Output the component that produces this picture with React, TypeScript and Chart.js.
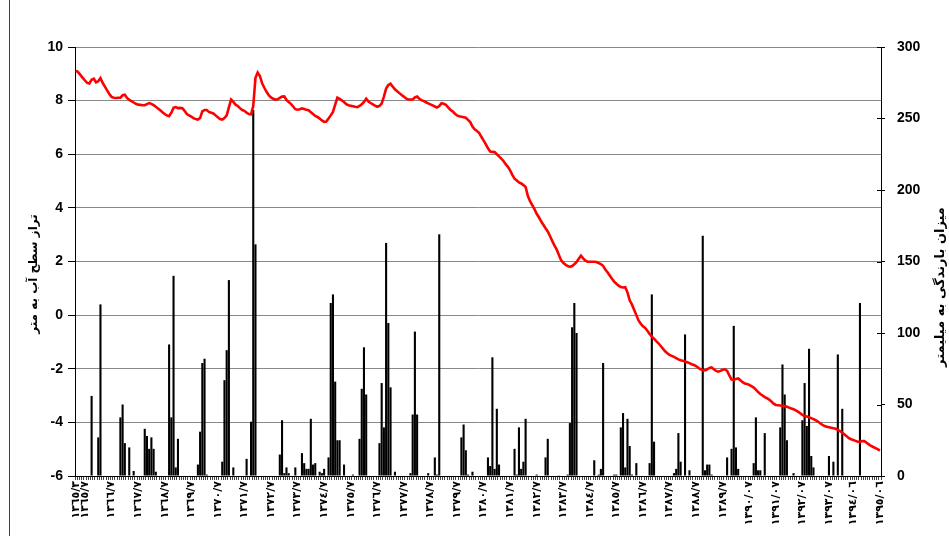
import { useEffect, useRef } from 'react';
import { Chart, registerables } from 'chart.js';

Chart.register(...registerables);

// Monthly groundwater level (m), starting 1365/03, one row per 12 months
const WATER_LEVEL = [
  9.13, 9.05, 8.95, 8.85, 8.75, 8.66, 8.64, 8.78, 8.82, 8.68, 8.72, 8.84,
  8.66, 8.52, 8.38, 8.25, 8.14, 8.11, 8.10, 8.11, 8.11, 8.20, 8.22, 8.10,
  8.03, 7.98, 7.93, 7.88, 7.85, 7.84, 7.83, 7.83, 7.87, 7.91, 7.88, 7.83,
  7.77, 7.71, 7.64, 7.57, 7.50, 7.45, 7.42, 7.55, 7.73, 7.76, 7.72, 7.73,
  7.72, 7.62, 7.50, 7.45, 7.40, 7.35, 7.31, 7.29, 7.35, 7.60, 7.65, 7.65,
  7.58, 7.55, 7.52, 7.45, 7.38, 7.31, 7.29, 7.35, 7.45, 7.75, 8.04, 7.95,
  7.85, 7.80, 7.72, 7.65, 7.62, 7.55, 7.50, 7.49, 7.80, 8.85, 9.05, 8.92,
  8.65, 8.48, 8.33, 8.20, 8.12, 8.07, 8.04, 8.05, 8.10, 8.15, 8.16, 8.03,
  7.95, 7.88, 7.78, 7.68, 7.66, 7.68, 7.71, 7.69, 7.66, 7.64, 7.57, 7.50,
  7.43, 7.39, 7.33, 7.26, 7.21, 7.22, 7.33, 7.45, 7.58, 7.85, 8.11, 8.07,
  8.01, 7.95, 7.87, 7.83, 7.81, 7.79, 7.77, 7.76, 7.80, 7.86, 7.95, 8.07,
  7.97, 7.91, 7.86, 7.81, 7.77, 7.80, 7.89, 8.15, 8.45, 8.58, 8.63, 8.52,
  8.42, 8.35, 8.28, 8.21, 8.15, 8.08, 8.04, 8.04, 8.04, 8.12, 8.15, 8.07,
  8.02, 7.98, 7.94, 7.90, 7.86, 7.82, 7.78, 7.74, 7.80, 7.90, 7.88, 7.84,
  7.75, 7.66, 7.60, 7.52, 7.45, 7.42, 7.40, 7.38, 7.36, 7.28, 7.20, 7.03,
  6.93, 6.87, 6.80, 6.65, 6.52, 6.38, 6.22, 6.10, 6.09, 6.08, 6.00, 5.92,
  5.84, 5.75, 5.63, 5.53, 5.40, 5.23, 5.09, 5.02, 4.95, 4.91, 4.85, 4.78,
  4.45, 4.25, 4.10, 3.95, 3.78, 3.65, 3.50, 3.37, 3.24, 3.12, 2.95, 2.77,
  2.60, 2.45, 2.25, 2.05, 1.95, 1.88, 1.83, 1.80, 1.83, 1.90, 1.98, 2.10,
  2.22, 2.12, 2.03, 1.99, 1.99, 1.99, 1.99, 1.98, 1.94, 1.90, 1.84, 1.70,
  1.60, 1.48, 1.36, 1.25, 1.17, 1.10, 1.05, 1.03, 1.04, 0.85, 0.55, 0.40,
  0.20, 0.00, -0.20, -0.32, -0.42, -0.48, -0.58, -0.70, -0.80, -0.88, -0.97, -1.05,
  -1.15, -1.25, -1.35, -1.42, -1.48, -1.52, -1.56, -1.60, -1.65, -1.68, -1.70, -1.73,
  -1.76, -1.79, -1.83, -1.86, -1.90, -1.96, -2.02, -2.05, -2.06, -2.02, -1.97, -1.95,
  -2.02, -2.08, -2.11, -2.08, -2.04, -2.02, -2.08, -2.25, -2.40, -2.41, -2.38, -2.36,
  -2.43, -2.50, -2.55, -2.57, -2.60, -2.65, -2.70, -2.78, -2.87, -2.94, -3.00, -3.06,
  -3.10, -3.15, -3.22, -3.30, -3.35, -3.36, -3.37, -3.38, -3.39, -3.42, -3.45, -3.48,
  -3.51, -3.55, -3.60, -3.66, -3.72, -3.76, -3.78, -3.81, -3.84, -3.88, -3.92, -3.97,
  -4.03, -4.09, -4.14, -4.16, -4.18, -4.20, -4.22, -4.24, -4.28, -4.33, -4.38, -4.45,
  -4.52, -4.59, -4.63, -4.66, -4.69, -4.72, -4.72, -4.70, -4.70, -4.76, -4.82, -4.88,
  -4.92, -4.96, -5.00, -5.05,
];

// Monthly rainfall (mm), same months
const RAINFALL = [
  0, 0, 0, 0, 0, 0, 0, 56, 0, 0, 27, 120,
  0, 0, 0, 0, 0, 0, 0, 0, 41, 50, 23, 0,
  20, 0, 3.5, 0, 0, 0, 0, 33, 28, 19, 27, 19,
  3, 0, 0, 0, 0, 0, 92, 41, 140, 6, 26, 0,
  0, 0, 0, 0, 0, 0, 0, 8, 31, 79, 82, 1,
  0, 0, 0, 0, 0, 0, 10, 67, 88, 137, 0, 6,
  0, 0, 0, 0, 0, 12, 0, 38, 256, 162, 0, 0,
  0, 0, 0, 0, 0, 0, 0, 0, 15, 39, 2, 6,
  2, 0, 0, 6, 0, 0, 16, 9, 5, 5, 40, 8,
  9, 0, 3, 2, 5, 0, 13, 121, 127, 66, 25, 25,
  0, 8, 0, 0, 0, 1, 0, 0, 26, 61, 90, 57,
  0, 0, 0, 0, 0, 23, 65, 34, 163, 107, 62, 0,
  3, 0, 0, 0, 0, 0, 0, 2, 43, 101, 43, 0,
  0, 0, 0, 2, 0, 0, 13, 1, 169, 0, 0, 0,
  0, 0, 0, 0, 0, 0, 27, 36, 18, 1, 0, 3,
  0, 0, 0, 0, 0, 0, 13, 7, 83, 5, 47, 8,
  0, 0, 0, 0, 0, 0, 19, 1, 34, 5, 10, 40,
  0, 0, 0, 0, 1, 0, 0, 0, 13, 26, 0, 0,
  0, 0, 0.5, 0, 0, 0, 1, 37, 104, 121, 100, 0,
  0, 0, 0, 0, 0, 0, 11, 0, 1, 5, 79, 0,
  0, 0, 0, 1, 1, 0, 34, 44, 6, 40, 21, 1,
  0, 9, 0, 0, 0, 0, 0, 9, 127, 24, 0, 0,
  0, 0, 0, 0, 0, 0, 2, 5, 30, 10, 0, 99,
  0, 4, 0, 0, 0, 0, 0, 168, 4, 8, 8, 1,
  0, 0, 0, 0, 0, 0, 13, 0, 19, 105, 20, 5,
  0, 0, 0, 0, 0, 0, 9, 41, 4, 4, 0, 30,
  0, 0, 0, 0, 0, 0, 34, 78, 57, 25, 0, 0,
  2, 0, 0, 0, 39, 65, 35, 89, 14, 6, 0, 0,
  0, 0, 0, 0, 14, 0, 10, 0, 85, 0, 47, 0,
  0, 0, 0, 0, 0, 0, 121, 0, 0, 0, 0, 0,
  0, 0, 0, 0,
];

const START_YEAR = 1365;
const START_MONTH = 3;

// Month keys (year/month) for every category
const MONTHS = WATER_LEVEL.map((_, i) => {
  const t = START_MONTH - 1 + i;
  return `${START_YEAR + Math.floor(t / 12)}/${(t % 12) + 1}`;
});

// Months that carry a tick label, and their text
const TICK_KEYS = [
  '1365/3', '1365/7', '1366/7', '1367/7', '1368/7', '1369/7', '1370/7', '1371/7',
  '1372/7', '1373/7', '1374/7', '1375/7', '1376/7', '1377/7', '1378/7', '1379/7',
  '1380/7', '1381/7', '1382/7', '1383/7', '1384/7', '1385/7', '1386/7', '1387/7',
  '1388/7', '1389/7', '1390/7', '1391/7', '1392/7', '1393/7', '1394/6', '1395/6',
];
const TICK_TEXT = [
  '١٣٦٥/٣', '١٣٦٥/٧', '١٣٦٦/٧', '١٣٦٧/٧', '١٣٦٨/٧', '١٣٦٩/٧', '١٣٧٠/٧', '١٣٧١/٧',
  '١٣٧٢/٧', '١٣٧٣/٧', '١٣٧٤/٧', '١٣٧٥/٧', '١٣٧٦/٧', '١٣٧٧/٧', '١٣٧٨/٧', '١٣٧٩/٧',
  '١٣٨٠/٧', '١٣٨١/٧', '١٣٨٢/٧', '١٣٨٣/٧', '١٣٨٤/٧', '١٣٨٥/٧', '١٣٨٦/٧', '١٣٨٧/٧',
  '١٣٨٨/٧', '١٣٨٩/٧', '١٣٩٠/٠٧', '١٣٩١/٠٧', '١٣٩٢/٠٧', '١٣٩٣/٠٧', '١٣٩٤/٠٦', '١٣٩٥/٠٦',
];

const LEFT_TITLE = 'تراز سطح آب به متر';
const RIGHT_TITLE = 'میزان بارندگی به میلیمتر';

const tickMap = new Map<string, string>();
TICK_KEYS.forEach((k, i) => tickMap.set(k, TICK_TEXT[i]));

const decorPlugin = {
  id: 'decor',
  afterDraw(chart: any) {
    const ctx = chart.ctx as CanvasRenderingContext2D;
    const area = chart.chartArea;
    ctx.save();
    // outer frame line on the left
    ctx.strokeStyle = '#404040';
    ctx.lineWidth = 1;
    ctx.beginPath();
    ctx.moveTo(9.5, 0);
    ctx.lineTo(9.5, chart.height);
    ctx.stroke();
    // right axis ticks crossing inside
    const y1 = chart.scales.y1;
    ctx.strokeStyle = '#000';
    ctx.beginPath();
    y1.ticks.forEach((_: any, i: number) => {
      const yy = Math.round(y1.getPixelForTick(i)) + 0.5;
      ctx.moveTo(area.right - 4, yy);
      ctx.lineTo(area.right, yy);
    });
    ctx.stroke();
    // axis titles
    ctx.fillStyle = '#000';
    ctx.textAlign = 'center';
    ctx.textBaseline = 'middle';
    (ctx as any).direction = 'rtl';
    ctx.font = 'bold 12px "DejaVu Sans"';
    ctx.save();
    ctx.translate(34, 274);
    ctx.rotate(-Math.PI / 2);
    ctx.fillText(LEFT_TITLE, 0, 0);
    ctx.restore();
    ctx.font = 'bold 13px "DejaVu Sans"';
    ctx.save();
    ctx.translate(941, 287);
    ctx.rotate(-Math.PI / 2);
    ctx.fillText(RIGHT_TITLE, 0, 0);
    ctx.restore();
    ctx.restore();
  },
};

export default function App() {
  const ref = useRef<HTMLCanvasElement | null>(null);

  useEffect(() => {
    if (!ref.current) return;
    const numFont = { size: 14, weight: 'bold' as const, family: '"Liberation Sans", Arial, sans-serif' };
    const chart = new Chart(ref.current, {
      type: 'bar',
      data: {
        labels: MONTHS,
        datasets: [
          {
            type: 'line' as const,
            label: 'water level',
            data: WATER_LEVEL,
            yAxisID: 'y',
            borderColor: '#ff0000',
            borderWidth: 2.6,
            pointRadius: 0,
            tension: 0,
            order: 0,
          } as any,
          {
            type: 'bar' as const,
            label: 'rainfall',
            data: RAINFALL,
            yAxisID: 'y1',
            backgroundColor: '#000',
            borderWidth: 0,
            barPercentage: 0.95,
            categoryPercentage: 1,
            order: 1,
          },
        ],
      },
      options: {
        animation: false,
        responsive: false,
        maintainAspectRatio: false,
        layout: { padding: { top: 47, left: 0, right: 0, bottom: 0 } },
        plugins: { legend: { display: false }, tooltip: { enabled: false } },
        scales: {
          x: {
            offset: true,
            grid: { offset: true, drawOnChartArea: false, tickLength: 4, color: '#444', lineWidth: 1 },
            border: { color: '#000' },
            ticks: {
              autoSkip: false,
              maxRotation: 90,
              minRotation: 90,
              padding: 1,
              color: '#000',
              font: { size: 11, weight: 'bold', family: '"DejaVu Sans"' },
              callback: (v: any) => tickMap.get(MONTHS[v as number]) ?? '',
            },
            afterFit: (s: any) => { s.height = 60; },
          },
          y: {
            position: 'left',
            min: -6,
            max: 10,
            ticks: { stepSize: 2, color: '#000', font: numFont, padding: 5 },
            grid: { color: '#888', tickLength: 7, tickColor: '#000', lineWidth: 1 },
            border: { color: '#000', width: 1 },
            afterFit: (s: any) => { s.width = 75; },
          },
          y1: {
            position: 'right',
            min: 0,
            max: 300,
            ticks: { stepSize: 50, color: '#000', font: numFont, padding: 12 },
            grid: { drawOnChartArea: false, tickLength: 4, color: '#000' },
            border: { color: '#000', width: 1 },
            afterFit: (s: any) => { s.width = 68; },
          },
        },
      },
      plugins: [decorPlugin],
    });
    return () => chart.destroy();
  }, []);

  return (
    <div style={{ position: 'fixed', left: 0, top: 0, width: 949, height: 536, background: '#fff' }}>
      <canvas ref={ref} width={949} height={536} style={{ display: 'block' }} />
    </div>
  );
}
